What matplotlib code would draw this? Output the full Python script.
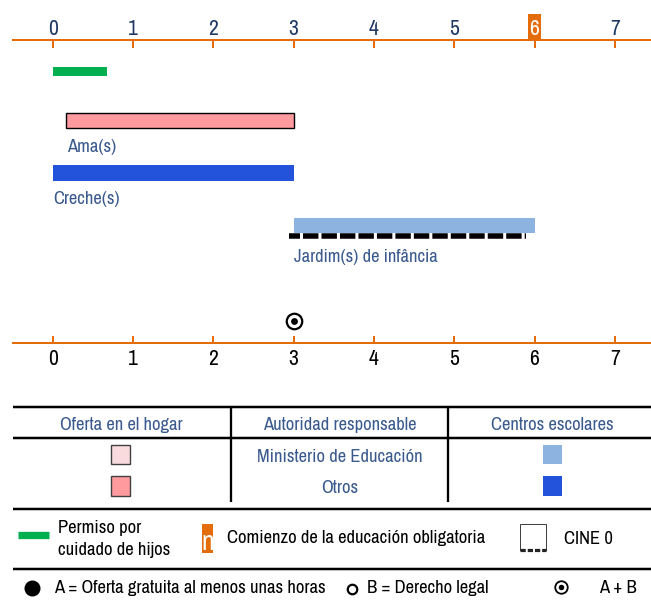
import matplotlib
matplotlib.use("Agg")
import matplotlib.pyplot as plt
from matplotlib.patches import Rectangle
from matplotlib import font_manager
import matplotlib.transforms as mtransforms

# ---------------- data ----------------
ages = [0, 1, 2, 3, 4, 5, 6, 7]
prog_names = ["Permiso", "Ama(s)", "Creche(s)", "Jardim(s) de infância"]
prog_start = [0.0, 0.17, 0.0, 3.0]
prog_end = [0.67, 3.0, 3.0, 6.0]
prog_labels = ["", "Ama(s)", "Creche(s)", "Jardim(s) de infância"]
compulsory_age = 6
cine0_range = [3.0, 6.0]
guarantee_ages = [3]          # A + B

table_headers = ["Oferta en el hogar", "Autoridad responsable", "Centros escolares"]
table_rows = ["Ministerio de Educación", "Otros"]
legend_leave = ["Permiso por", "cuidado de hijos"]
legend_compulsory = "Comienzo de la educación obligatoria"
legend_cine = "CINE 0"
legend_A = "A = Oferta gratuita al menos unas horas"
legend_B = "B = Derecho legal"
legend_AB = "A + B"

# ---------------- style ----------------
names = {f.name for f in font_manager.fontManager.ttflist}
prefs = ["Liberation Sans Narrow", "Arial Narrow", "Archivo Narrow", "PT Sans Narrow",
         "Roboto Condensed", "Fira Sans Condensed"]
chosen = next((p for p in prefs if p in names), "Liberation Sans")
K = 1.0 if chosen != "Liberation Sans" else 0.82
plt.rcParams["font.family"] = [chosen, "DejaVu Sans"]
plt.rcParams["lines.scale_dashes"] = False

ORANGE = "#E46C0A"
NAVY = "#1F3864"
TXT = "#3A5A8E"
GREEN = "#00B050"
PINK = "#FF9A9F"
LPINK = "#FADBDD"
BLUE = "#2352DB"
SKY = "#8DB3E0"

W, H = 651, 600
ZERO_PX, UNIT_PX = 52.7, 80.3
X0 = 12.7
TOP_Y, BOT_Y = 40.0, 342.7
PT = 0.72  # px -> pt at 100 dpi

fig = plt.figure(figsize=(W / 100, H / 100), dpi=100)

# main timeline axes (x: age, y: pixel rows)
ax = fig.add_axes([X0 / W, (H - BOT_Y) / H, (W - X0) / W, (BOT_Y - TOP_Y) / H])
ax.patch.set_visible(False)
xlim = ((X0 - ZERO_PX) / UNIT_PX, (W - ZERO_PX) / UNIT_PX)
ax.set_xlim(*xlim)
ax.set_ylim(BOT_Y, TOP_Y)
for s in ["left", "right", "top"]:
    ax.spines[s].set_visible(False)
ax.spines["bottom"].set_color(ORANGE)
ax.spines["bottom"].set_linewidth(2 * PT)
ax.set_yticks([])
ax.set_xticks(ages)
ax.set_xticklabels([str(a) for a in ages])
ax.tick_params(axis="x", direction="in", length=7.5 * PT, width=2 * PT, color=ORANGE,
               labelsize=15.5 * K, labelcolor="black", pad=6.5 * PT, top=False, bottom=True)

axt = ax.twiny()
axt.patch.set_visible(False)
axt.set_xlim(*xlim)
for s in ["left", "right", "bottom"]:
    axt.spines[s].set_visible(False)
axt.spines["top"].set_color(ORANGE)
axt.spines["top"].set_linewidth(2 * PT)
axt.set_xticks(ages)
axt.set_xticklabels([str(a) for a in ages])
axt.tick_params(axis="x", direction="in", length=7.5 * PT, width=2 * PT, color=ORANGE,
                labelsize=15.5 * K, labelcolor=NAVY, pad=0.8 * PT, top=True, bottom=False,
                labeltop=True, labelbottom=False)
for lbl, a in zip(axt.get_xticklabels(), ages):
    if a == compulsory_age:
        lbl.set_color("white")
axt.add_patch(Rectangle((compulsory_age - 6.5 / UNIT_PX, 14), 13 / UNIT_PX, 25.5,
                        facecolor=ORANGE, edgecolor="none", clip_on=False, zorder=1,
                        transform=mtransforms.blended_transform_factory(
                            axt.transData, ax.transData)))

# bars
bar_y = [71.3, 120.8, 172.8, 225.8]
bar_h = [9.3, 15.0, 15.7, 15.0]
bar_col = [GREEN, PINK, BLUE, SKY]
bar_ec = ["none", "black", "none", "none"]
bar_lw = [0, 1.0, 0, 0]
widths = [e - s for s, e in zip(prog_start, prog_end)]
ax.barh(bar_y, widths, left=prog_start, height=bar_h, color=bar_col,
        edgecolor=bar_ec, linewidth=bar_lw, zorder=3)

label_base = [None, 151.7, 204.0, 261.7]
for s, lab, yb in zip(prog_start, prog_labels, label_base):
    if lab:
        ax.text(s + 0.01, yb, lab, va="baseline", ha="left", color=TXT, fontsize=13.3 * K)

# CINE 0 dashed underline
ax.plot([cine0_range[0] - 0.06, cine0_range[1] - 0.1], [236.2, 236.2], color="black",
        lw=5.5 * PT, ls=(3.2, (11.1, 2.2)), dash_capstyle="butt", zorder=3)

# A + B marker
for a in guarantee_ages:
    ax.plot([a], [320.7], marker="o", ms=15.5 * PT, mfc="white", mec="black",
            mew=2.2 * PT, clip_on=False, zorder=4)
    ax.plot([a], [320.7], marker="o", ms=6.8 * PT, mfc="black", mec="black",
            mew=0, clip_on=False, zorder=5)

# ---------------- legend / table (pixel coordinates) ----------------
axo = fig.add_axes([0, 0, 1, 1])
axo.set_xlim(0, W)
axo.set_ylim(H, 0)
axo.axis("off")

LW = 2.5 * PT
for y in [407.3, 438.3, 508.7, 569.0]:
    axo.plot([X0, W], [y, y], color="black", lw=LW, solid_capstyle="butt")
for x in [230.7, 448.3]:
    axo.plot([x, x], [407.3, 501.7], color="black", lw=2.3 * PT, solid_capstyle="butt")

FS = 13.4 * K
col_cx = [121.0, 339.7, 552.0]
for cx, h in zip(col_cx, table_headers):
    axo.text(cx, 430.0, h, ha="center", va="baseline", color=TXT, fontsize=FS)
row_base = [461.7, 493.3]
for yb, r in zip(row_base, table_rows):
    axo.text(col_cx[1], yb, r, ha="center", va="baseline", color=TXT, fontsize=FS)

sq_top = [444.5, 476.2]
for yt, c in zip(sq_top, [LPINK, PINK]):
    axo.add_patch(Rectangle((111.0, yt), 19.3, 19.5, facecolor=c, edgecolor="#404040", lw=1.0))
for yt, c in zip(sq_top, [SKY, BLUE]):
    axo.add_patch(Rectangle((543.0, yt), 19.0, 19.3, facecolor=c, edgecolor="none"))

# legend row
axo.plot([18.3, 49.0], [534.7, 534.7], color=GREEN, lw=7.3 * PT, solid_capstyle="butt")
axo.text(57.7, 532.7, legend_leave[0], ha="left", va="baseline", fontsize=FS, color="black")
axo.text(57.7, 555.0, legend_leave[1], ha="left", va="baseline", fontsize=FS, color="black")

axo.add_patch(Rectangle((202.0, 524.0), 11.3, 28.7, facecolor=ORANGE, edgecolor="none"))
axo.text(207.7, 550.0, "n", ha="center", va="baseline", fontsize=20 * K, color="white")
axo.text(227.3, 543.3, legend_compulsory, ha="left", va="baseline", fontsize=FS, color="black")

axo.plot([519.5, 519.5, 546.0, 546.0], [550.0, 524.0, 524.0, 550.0], color="#404040",
         lw=1.0 * PT, solid_joinstyle="miter")
axo.plot([519.5, 546.0], [549.8, 549.8], color="#222222", lw=3.2 * PT,
         ls=(0, (3.8, 1.4)), dash_capstyle="butt")
axo.text(564.3, 544.0, legend_cine, ha="left", va="baseline", fontsize=FS, color="black")

# bottom row
axo.plot([31.7], [587.5], marker="o", ms=16 * PT, color="black", mew=0)
axo.text(54.3, 593.3, legend_A, ha="left", va="baseline", fontsize=FS, color="black")
axo.plot([351.7], [589.0], marker="o", ms=9.5 * PT, mfc="white", mec="black", mew=2.2 * PT)
axo.text(366.7, 593.3, legend_B, ha="left", va="baseline", fontsize=FS, color="black")
axo.plot([561.0], [586.5], marker="o", ms=12.5 * PT, mfc="white", mec="black", mew=1.8 * PT)
axo.plot([561.0], [586.5], marker="o", ms=5.5 * PT, color="black", mew=0)
axo.text(598.7, 592.7, legend_AB, ha="left", va="baseline", fontsize=FS, color="black")

fig.savefig("out.png", dpi=100)
